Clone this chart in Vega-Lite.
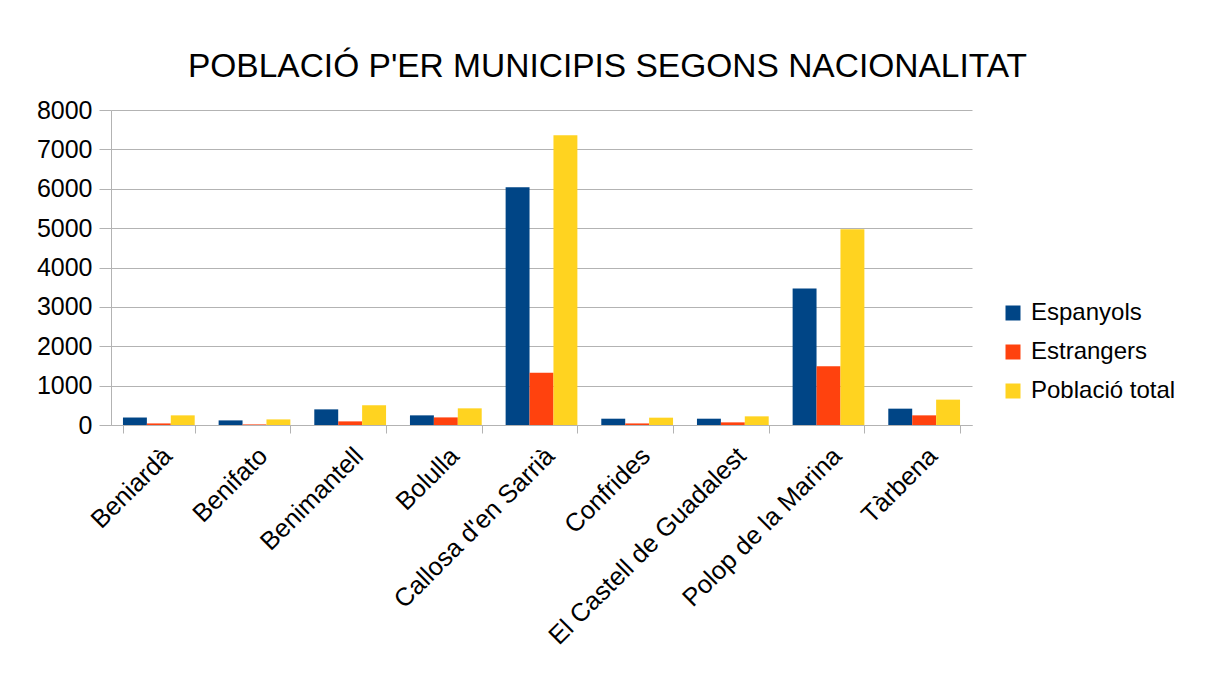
{
  "$schema": "https://vega.github.io/schema/vega-lite/v6.json",
  "width": 861,
  "height": 315,
  "autosize": {"type": "none"},
  "padding": {"left": 111, "top": 110, "right": 234, "bottom": 261},
  "background": "white",
  "title": {
    "text": "POBLACIÓ P'ER MUNICIPIS SEGONS NACIONALITAT",
    "font": "Liberation Sans",
    "fontSize": 33.5,
    "fontWeight": "normal",
    "color": "#000000",
    "anchor": "middle",
    "dx": 66,
    "offset": 14
  },
  "data": {
    "values": [
      {"municipi": "Beniardà", "serie": "Espanyols", "valor": 190},
      {"municipi": "Beniardà", "serie": "Estrangers", "valor": 40},
      {"municipi": "Beniardà", "serie": "Població total", "valor": 245},
      {"municipi": "Benifato", "serie": "Espanyols", "valor": 117},
      {"municipi": "Benifato", "serie": "Estrangers", "valor": 15},
      {"municipi": "Benifato", "serie": "Població total", "valor": 142},
      {"municipi": "Benimantell", "serie": "Espanyols", "valor": 397},
      {"municipi": "Benimantell", "serie": "Estrangers", "valor": 92},
      {"municipi": "Benimantell", "serie": "Població total", "valor": 499},
      {"municipi": "Bolulla", "serie": "Espanyols", "valor": 245},
      {"municipi": "Bolulla", "serie": "Estrangers", "valor": 193},
      {"municipi": "Bolulla", "serie": "Població total", "valor": 423},
      {"municipi": "Callosa d'en Sarrià", "serie": "Espanyols", "valor": 6040},
      {"municipi": "Callosa d'en Sarrià", "serie": "Estrangers", "valor": 1330},
      {"municipi": "Callosa d'en Sarrià", "serie": "Població total", "valor": 7361},
      {"municipi": "Confrides", "serie": "Espanyols", "valor": 160},
      {"municipi": "Confrides", "serie": "Estrangers", "valor": 40},
      {"municipi": "Confrides", "serie": "Població total", "valor": 186},
      {"municipi": "El Castell de Guadalest", "serie": "Espanyols", "valor": 160},
      {"municipi": "El Castell de Guadalest", "serie": "Estrangers", "valor": 67},
      {"municipi": "El Castell de Guadalest", "serie": "Població total", "valor": 220},
      {"municipi": "Polop de la Marina", "serie": "Espanyols", "valor": 3468},
      {"municipi": "Polop de la Marina", "serie": "Estrangers", "valor": 1491},
      {"municipi": "Polop de la Marina", "serie": "Població total", "valor": 4969},
      {"municipi": "Tàrbena", "serie": "Espanyols", "valor": 415},
      {"municipi": "Tàrbena", "serie": "Estrangers", "valor": 245},
      {"municipi": "Tàrbena", "serie": "Població total", "valor": 644}
    ]
  },
  "mark": {"type": "bar"},
  "encoding": {
    "x": {
      "field": "municipi",
      "type": "nominal",
      "sort": null,
      "scale": {"paddingInner": 0.25, "paddingOuter": 0.125},
      "axis": {
        "title": null,
        "labelAngle": -45,
        "labelAlign": "right",
        "labelBaseline": "top",
        "labelFont": "Liberation Sans",
        "labelFontSize": 25.5,
        "labelColor": "#000000",
        "labelPadding": 10,
        "labelLimit": 0,
        "tickBand": "extent",
        "tickColor": "#b3b3b3",
        "tickSize": 8,
        "domainColor": "#b3b3b3",
        "grid": false
      }
    },
    "xOffset": {"field": "serie", "type": "nominal", "scale": {"paddingInner": 0, "paddingOuter": 0}},
    "y": {
      "field": "valor",
      "type": "quantitative",
      "scale": {"domain": [0, 8000], "nice": false},
      "axis": {
        "title": null,
        "values": [0, 1000, 2000, 3000, 4000, 5000, 6000, 7000, 8000],
        "format": "d",
        "labelFont": "Liberation Sans",
        "labelFontSize": 25,
        "labelColor": "#000000",
        "labelPadding": 7,
        "tickColor": "#b3b3b3",
        "tickSize": 12,
        "domainColor": "#b3b3b3",
        "gridColor": "#b3b3b3",
        "grid": true
      }
    },
    "color": {
      "field": "serie",
      "type": "nominal",
      "scale": {"domain": ["Espanyols", "Estrangers", "Població total"], "range": ["#004586", "#ff420e", "#ffd320"]},
      "legend": {
        "title": null,
        "orient": "none",
        "legendX": 890,
        "legendY": 191,
        "symbolType": "square",
        "symbolSize": 225,
        "symbolStrokeWidth": 0,
        "labelFont": "Liberation Sans",
        "labelFontSize": 24,
        "labelColor": "#000000",
        "rowPadding": 15,
        "labelOffset": 6
      }
    }
  },
  "config": {
    "view": {"stroke": null},
    "axis": {"gridOpacity": 1, "domainWidth": 1, "gridWidth": 1}
  }
}
